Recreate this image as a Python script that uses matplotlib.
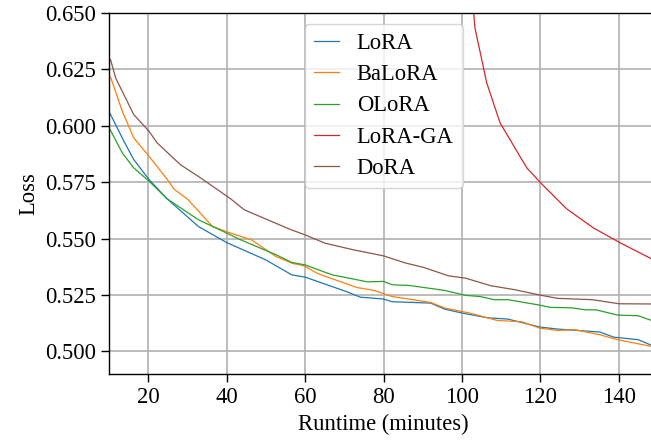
import matplotlib
matplotlib.use("Agg")
import matplotlib.pyplot as plt

# Loss curves (runtime in minutes)
lora_t = [10.2, 13.8, 16.3, 20.2, 24.8, 32.8, 40, 49.9, 56.6, 60, 70.5, 74.1, 80, 82.2,
          92, 95.6, 100, 106.4, 111.7, 119.8, 124.3, 135.1, 138.7, 144.9, 148.3]
lora = [0.6056, 0.5931, 0.585, 0.5761, 0.5676, 0.5553, 0.5482, 0.5406, 0.5339, 0.5329,
        0.5265, 0.524, 0.5232, 0.522, 0.5214, 0.5187, 0.517, 0.5149, 0.5143, 0.5108,
        0.5099, 0.5086, 0.5063, 0.5052, 0.5027]

balora_t = [10.4, 13.4, 16.3, 20.2, 25.2, 26.5, 30.1, 36.4, 40, 46.3, 52.6, 56.6, 59.7,
            63.3, 73.2, 77.6, 82.2, 92, 95.6, 101.9, 109, 115.3, 119.8, 124.3, 128.8,
            135.1, 139.6, 148.3]
balora = [0.6215, 0.6063, 0.5946, 0.5864, 0.5754, 0.572, 0.5673, 0.5553, 0.553, 0.5494,
          0.542, 0.5391, 0.5379, 0.5344, 0.5283, 0.527, 0.5243, 0.5217, 0.5192, 0.517,
          0.5137, 0.5131, 0.5103, 0.5093, 0.5096, 0.5074, 0.5052, 0.5022]

olora_t = [10.2, 13.4, 16.3, 20.2, 24.8, 32.8, 40, 43.6, 52.6, 56.6, 60, 66.9, 75.9, 80,
           82.2, 86.6, 95.6, 101, 104.6, 108.2, 111.7, 119.8, 122.5, 127.9, 131.5, 134.2,
           139.6, 144.9, 148.3]
olora = [0.5985, 0.5879, 0.5813, 0.5754, 0.5676, 0.5583, 0.5524, 0.5494, 0.5428, 0.5394,
         0.5383, 0.5339, 0.5308, 0.531, 0.5295, 0.5292, 0.527, 0.5248, 0.5243, 0.5229,
         0.5229, 0.5205, 0.5195, 0.5193, 0.5184, 0.5184, 0.5161, 0.5158, 0.5137]

loraga_t = [100.5, 102.2, 103.3, 106.3, 109.7, 116.5, 119.9, 126.7, 133.5, 140.3, 148.3]
loraga = [0.72, 0.665, 0.6432, 0.6189, 0.6012, 0.5813, 0.5749, 0.5631, 0.5547, 0.5481, 0.541]

dora_t = [10.4, 11.7, 16.3, 20.2, 22.3, 28.2, 33.3, 41, 44.5, 56.1, 60, 65.1, 72.3, 80,
          85.7, 90.2, 96.5, 101, 107.3, 113.5, 120, 124.3, 133.3, 140, 148.3]
dora = [0.6292, 0.6211, 0.6049, 0.5975, 0.5923, 0.5827, 0.5769, 0.5676, 0.5627, 0.5541,
        0.5516, 0.5479, 0.545, 0.5423, 0.5391, 0.5372, 0.5335, 0.5324, 0.5291, 0.5273,
        0.5249, 0.5235, 0.5229, 0.5211, 0.521]

plt.rcParams["font.family"] = ["Liberation Serif", "DejaVu Serif"]
plt.rcParams["font.size"] = 16.3

fig = plt.figure(figsize=(6.51, 4.44), dpi=100)
ax = fig.add_axes([0.1674, 0.1577, 0.8436, 0.8137])

lw = 0.9
ax.plot(lora_t, lora, color="#1f77b4", lw=lw, label="LoRA")
ax.plot(balora_t, balora, color="#ff7f0e", lw=lw, label="BaLoRA")
ax.plot(olora_t, olora, color="#2ca02c", lw=lw, label="OLoRA")
ax.plot(loraga_t, loraga, color="#d62728", lw=lw, label="LoRA-GA")
ax.plot(dora_t, dora, color="#8c564b", lw=lw, label="DoRA")

ax.set_xlim(10, 150)
ax.set_ylim(0.490, 0.650)
ax.set_xticks([20, 40, 60, 80, 100, 120, 140])
ax.set_yticks([0.500, 0.525, 0.550, 0.575, 0.600, 0.625, 0.650])
ax.set_yticklabels(["0.500", "0.525", "0.550", "0.575", "0.600", "0.625", "0.650"])
ax.grid(True, color="#b0b0b0", lw=1.2)
ax.tick_params(length=6, width=1.0)
for s in ax.spines.values():
    s.set_linewidth(1.0)
ax.set_xlabel("Runtime (minutes)")
ax.set_ylabel("Loss")
ax.legend(loc="upper center", handlelength=1.1, labelspacing=0.45)

fig.savefig("out.png", dpi=100)
